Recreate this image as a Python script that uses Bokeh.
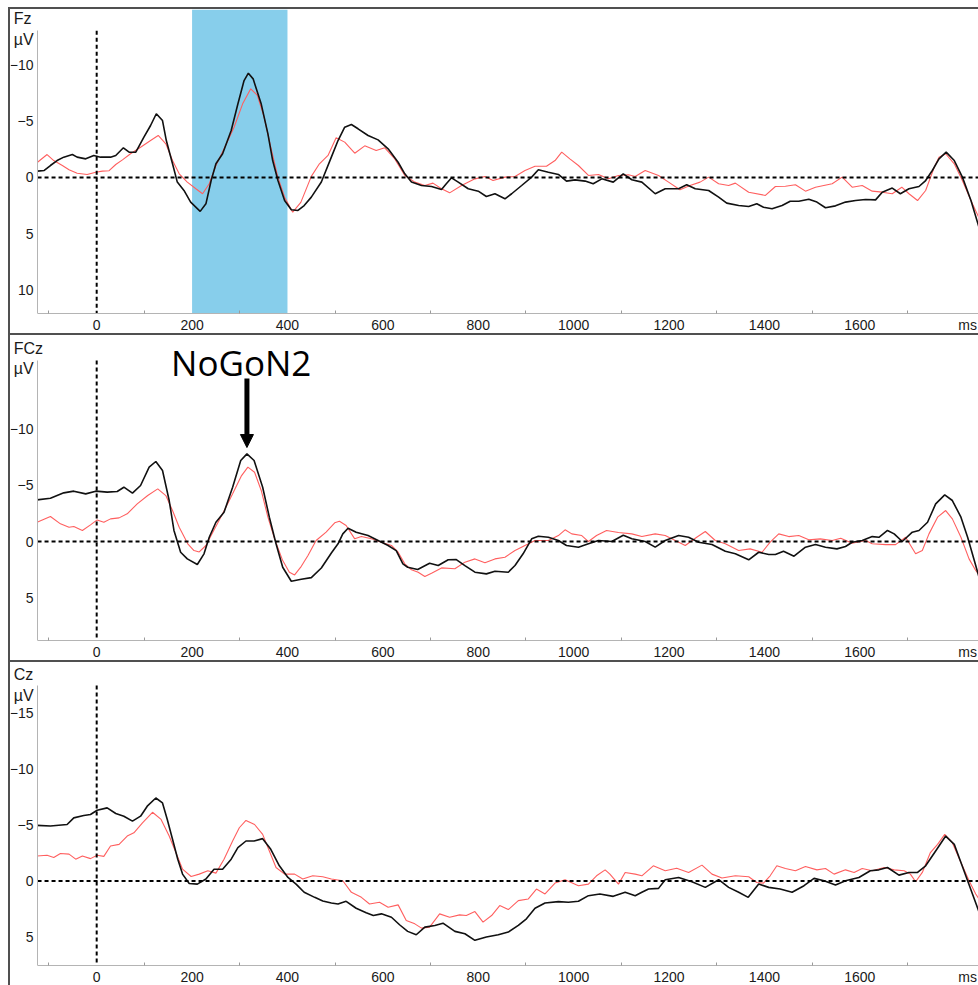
from bokeh.plotting import figure
from bokeh.layouts import column
from bokeh.models import (Range1d, FixedTicker, BoxAnnotation, Label,
                          Arrow, NormalHead)
from bokeh.embed import file_html
from bokeh.resources import INLINE

# ---------------------------------------------------------------- data
# time in ms, amplitude in microvolts (negative plotted upward)
FZ_BLACK_T = [-124, -110, -97, -83, -69, -51, -41, -23, -6, 8, 29, 40, 56, 68, 82, 99, 113, 125, 138, 146,
              159, 169, 183, 197, 217, 229, 240, 250, 264, 282, 296, 309, 318, 328, 345, 359, 369, 380, 394,
              408, 422, 435, 450, 471, 492, 506, 520, 534, 548, 569, 590, 611, 632, 646, 660, 681, 702, 723,
              733, 744, 758, 779, 800, 817, 835, 856, 870, 891, 912, 926, 947, 968, 985, 1003, 1024, 1041,
              1059, 1083, 1104, 1122, 1143, 1171, 1192, 1220, 1237, 1255, 1283, 1304, 1321, 1346, 1367, 1384,
              1398, 1416, 1437, 1454, 1472, 1493, 1510, 1528, 1549, 1570, 1591, 1612, 1633, 1647, 1668, 1685,
              1703, 1724, 1738, 1752, 1766, 1781, 1798, 1815, 1833, 1854]
FZ_BLACK_V = [-0.56, -0.62, -1.06, -1.5, -1.8, -2.03, -1.8, -1.65, -1.95, -1.8, -1.8, -1.95, -2.63, -2.24, -2.24,
              -3.57, -4.6, -5.64, -5.04, -3.27, -1.21, 0.41, 1.15, 2.18, 3.0, 2.33, 0.27, -1.21, -2.1, -4.16,
              -6.5, -8.58, -9.23, -8.73, -6.5, -3.86, -1.5, 0.27, 2.04, 2.86, 2.92, 2.48, 1.74, 0.4, -1.8,
              -3.27, -4.45, -4.69, -4.31, -3.72, -3.33, -2.54, -1.35, -0.32, 0.41, 0.71, 0.8, 1.06, 0.56, 0.03,
              0.41, 1.0, 1.21, 1.68, 1.44, 1.89, 1.44, 0.71, -0.03, -0.68, -0.47, -0.27, 0.32, 0.21, 0.32, 0.56,
              0.12, 0.41, -0.32, 0.2, 0.41, 1.44, 1.0, 1.0, 0.65, 1.0, 1.15, 1.74, 2.27, 2.48, 2.57, 2.33, 2.63,
              2.77, 2.48, 2.1, 2.1, 1.92, 2.18, 2.68, 2.51, 2.18, 2.04, 1.95, 1.98, 1.3, 0.94, 1.44, 1.0, 0.8,
              0.27, -0.62, -1.65, -2.24, -1.5, -0.03, 2.04, 4.99]

FZ_RED_T = [-124, -104, -90, -72, -58, -41, -20, -2, 12, 26, 40, 54, 71, 92, 113, 129, 145, 159, 173, 190, 208,
            222, 236, 250, 267, 288, 306, 323, 337, 351, 365, 380, 394, 411, 428, 450, 467, 485, 502, 520, 541,
            562, 586, 604, 625, 646, 667, 688, 705, 723, 740, 765, 793, 814, 831, 856, 877, 898, 919, 943, 961,
            975, 992, 1010, 1031, 1052, 1073, 1094, 1115, 1129, 1150, 1178, 1199, 1223, 1244, 1265, 1283, 1304,
            1325, 1339, 1367, 1402, 1423, 1444, 1465, 1486, 1507, 1542, 1563, 1584, 1605, 1626, 1647, 1668,
            1688, 1703, 1721, 1738, 1756, 1766, 1780, 1798, 1815, 1833, 1854]
FZ_RED_V = [-1.35, -2.03, -1.5, -1.06, -0.68, -0.38, -0.27, -0.47, -0.56, -0.6, -1.15, -1.56, -2.1, -2.68, -3.27,
            -3.72, -2.98, -1.5, -0.32, 0.41, 1.0, 1.44, 0.56, -1.06, -2.54, -4.45, -6.52, -7.85, -7.26, -5.34,
            -2.68, 0.0, 1.74, 3.07, 2.2, -0.1, -1.21, -1.95, -3.51, -3.13, -2.15, -2.8, -2.39, -2.63, -1.65,
            -0.18, 0.41, 0.71, 0.5, 1.0, 1.36, 0.71, 0.12, -0.09, 0.27, -0.03, -0.09, -0.62, -1.0, -1.0, -1.5,
            -2.24, -1.65, -1.06, -0.18, -0.27, 0.12, -0.18, -0.24, -0.09, -0.62, -0.18, 0.41, 1.09, 0.71, 0.41,
            -0.03, 0.56, 0.71, 0.5, 1.3, 1.59, 0.8, 0.77, 0.65, 1.21, 0.86, 0.56, -0.03, 0.86, 0.71, 1.21, 1.3,
            1.44, 0.86, 1.44, 2.04, 1.15, -0.91, -1.8, -2.1, -1.21, 0.27, 2.04, 3.95]

FCZ_BLACK_T = [-125, -97, -69, -48, -23, -2, 22, 43, 57, 75, 92, 110, 124, 138, 152, 162, 176, 190, 211, 225,
               236, 250, 267, 285, 302, 315, 330, 348, 362, 376, 390, 408, 429, 450, 471, 492, 506, 516, 527,
               544, 569, 590, 611, 628, 642, 652, 673, 698, 716, 737, 754, 772, 793, 817, 835, 863, 877, 894,
               912, 926, 947, 968, 985, 1010, 1031, 1052, 1080, 1104, 1122, 1150, 1171, 1192, 1220, 1241, 1262,
               1290, 1318, 1339, 1367, 1388, 1409, 1423, 1440, 1462, 1486, 1507, 1528, 1552, 1570, 1584, 1605,
               1626, 1640, 1658, 1672, 1689, 1710, 1724, 1742, 1759, 1778, 1794, 1812, 1826, 1840, 1854]
FCZ_BLACK_V = [-3.7, -3.84, -4.32, -4.47, -4.23, -4.47, -4.38, -4.44, -4.82, -4.29, -4.97, -6.6, -7.1, -6.3,
               -3.64, -0.98, 0.95, 1.54, 2.04, 1.09, -0.38, -1.71, -2.6, -4.82, -7.19, -7.78, -7.19, -4.82,
               -2.16, 0.2, 2.28, 3.52, 3.35, 3.2, 2.35, 1.02, 0.2, -0.68, -1.18, -0.83, -0.53, -0.09, 0.35, 0.8,
               1.98, 2.28, 2.48, 1.92, 2.13, 1.62, 1.6, 2.13, 2.72, 2.87, 2.63, 2.72, 2.13, 1.09, -0.24, -0.47,
               -0.38, -0.09, 0.35, 0.5, 0.2, -0.09, 0.0, -0.56, -0.24, 0.0, 0.5, -0.09, -0.53, -0.38, 0.06, 0.27,
               0.86, 1.09, 1.62, 0.95, 1.15, 1.15, 0.86, 1.3, 0.5, 0.27, 0.5, 0.65, 0.44, 0.06, -0.09, -0.44,
               -0.38, -0.98, -0.68, 0.0, -0.83, -0.98, -1.71, -3.34, -4.14, -3.64, -2.16, -0.38, 1.69, 3.76]

FCZ_RED_T = [-125, -97, -76, -58, -48, -30, -13, 1, 15, 29, 47, 64, 85, 107, 128, 145, 159, 173, 191, 204, 215,
             229, 247, 264, 285, 303, 317, 331, 345, 359, 373, 390, 404, 415, 429, 443, 460, 481, 499, 509, 523,
             541, 555, 576, 597, 618, 632, 646, 660, 674, 688, 702, 723, 751, 772, 793, 814, 835, 856, 877, 898,
             919, 947, 968, 982, 996, 1017, 1031, 1048, 1069, 1094, 1122, 1143, 1171, 1192, 1213, 1234, 1258,
             1276, 1297, 1318, 1346, 1370, 1395, 1412, 1430, 1451, 1472, 1493, 1517, 1542, 1560, 1584, 1612,
             1626, 1654, 1675, 1696, 1717, 1731, 1745, 1763, 1780, 1794, 1812, 1829, 1843, 1854]
FCZ_RED_V = [-1.71, -2.22, -1.57, -1.27, -1.33, -0.98, -1.48, -1.92, -1.71, -2.01, -2.1, -2.46, -3.34, -4.08,
             -4.67, -4.08, -2.75, -1.27, 0.2, 0.8, 0.92, 0.35, -1.12, -2.46, -4.23, -5.8, -6.6, -6.15, -4.53,
             -2.16, -0.24, 1.69, 2.72, 2.96, 2.2, 1.24, -0.09, -0.83, -1.66, -1.8, -1.42, -0.24, -0.44, -0.24,
             0.06, 0.35, 0.95, 1.98, 2.51, 2.72, 3.1, 2.81, 2.34, 2.42, 1.83, 1.54, 1.89, 1.54, 1.39, 0.8, 0.35,
             -0.09, -0.09, -0.53, -1.04, -0.68, -0.53, 0.0, -0.53, -0.98, -0.8, -0.68, -0.44, -0.68, -0.53,
             -0.09, 0.35, -0.38, -0.89, -0.09, 0.2, 0.8, 0.65, 0.95, 0.06, -0.68, -0.44, -0.53, -0.15, -0.24,
             -0.09, -0.3, 0.15, -0.09, 0.2, 0.27, 0.27, -0.38, 1.09, 0.8, -0.68, -2.16, -2.75, -2.01, -0.38,
             1.54, 2.57, 3.17]

CZ_BLACK_T = [-125, -97, -62, -48, -27, -13, 1, 22, 40, 57, 75, 92, 106, 124, 138, 148, 159, 170, 180, 194, 211,
              229, 246, 264, 282, 296, 313, 330, 348, 365, 383, 401, 418, 435, 457, 474, 492, 506, 523, 544, 565,
              580, 597, 618, 635, 652, 670, 688, 709, 726, 751, 772, 793, 817, 842, 863, 884, 901, 919, 940, 968,
              989, 1010, 1031, 1055, 1083, 1108, 1129, 1143, 1157, 1178, 1192, 1220, 1248, 1276, 1304, 1325,
              1346, 1366, 1388, 1409, 1433, 1458, 1483, 1504, 1525, 1549, 1570, 1598, 1622, 1640, 1658, 1682,
              1703, 1721, 1738, 1759, 1780, 1798, 1812, 1826, 1840, 1854]
CZ_BLACK_V = [-4.96, -4.9, -5.04, -5.63, -5.84, -5.93, -6.31, -6.52, -6.02, -5.78, -5.34, -5.78, -6.67, -7.4,
              -6.96, -5.49, -3.72, -1.95, -0.62, 0.21, 0.27, -0.18, -1.06, -1.06, -1.95, -2.98, -3.57, -3.57,
              -3.78, -2.83, -1.36, -0.32, 0.27, 1.0, 1.45, 1.77, 1.95, 2.04, 1.8, 2.42, 2.83, 3.07, 2.92, 3.22,
              3.89, 4.48, 4.78, 4.1, 3.95, 3.75, 4.48, 4.69, 5.28, 4.98, 4.78, 4.54, 3.95, 3.36, 2.42, 1.95, 1.83,
              1.89, 1.8, 1.3, 1.15, 1.36, 1.0, 1.3, 1.0, 0.71, 0.65, -0.12, -0.32, 0.06, 0.56, -0.12, 0.56, 1.0,
              1.45, 0.27, 0.56, 0.71, 1.0, 0.41, -0.24, -0.03, 0.35, -0.03, -0.32, -0.92, -1.0, -1.21, -0.53,
              -0.77, -0.77, -1.36, -2.68, -4.01, -3.27, -1.65, -0.03, 1.59, 3.22]

CZ_RED_T = [-125, -104, -90, -76, -58, -44, -30, -13, 1, 15, 29, 47, 64, 78, 96, 117, 135, 152, 166, 180, 198,
            215, 233, 250, 267, 285, 299, 313, 331, 348, 362, 376, 394, 415, 432, 453, 474, 492, 516, 534, 555,
            572, 593, 611, 632, 649, 667, 681, 698, 719, 740, 761, 775, 793, 810, 828, 845, 863, 884, 905, 922,
            940, 961, 982, 1010, 1031, 1048, 1066, 1076, 1094, 1108, 1129, 1143, 1167, 1192, 1216, 1241, 1269,
            1290, 1311, 1339, 1367, 1384, 1398, 1412, 1426, 1444, 1465, 1486, 1510, 1528, 1546, 1570, 1588,
            1605, 1626, 1651, 1672, 1693, 1706, 1717, 1731, 1748, 1763, 1778, 1794, 1812, 1829, 1843, 1854]
CZ_RED_V = [-2.24, -2.3, -2.1, -2.45, -2.4, -1.95, -2.24, -2.0, -2.3, -2.2, -3.13, -3.27, -4.01, -4.3, -5.19,
            -6.13, -5.49, -4.01, -2.54, -1.06, -0.41, -0.62, -0.92, -0.71, -1.95, -3.57, -4.75, -5.4, -5.04,
            -4.16, -2.68, -1.21, -0.62, -0.62, -0.18, -0.47, -0.38, -0.18, -0.03, 1.0, 1.45, 2.04, 1.89, 2.33,
            2.12, 3.51, 3.81, 4.19, 4.1, 2.92, 3.22, 3.01, 3.07, 2.72, 3.66, 3.07, 2.18, 2.54, 1.74, 1.59, 0.71,
            1.15, 0.18, -0.12, 0.41, 0.27, -0.47, -1.0, -0.62, 0.27, -0.77, -0.62, -0.47, -1.36, -0.92, -1.15,
            -0.77, -1.42, -0.62, -0.27, -0.47, -0.38, 0.12, 0.18, -0.47, -1.36, -1.12, -0.92, -1.3, -1.0, -1.12,
            -0.62, -1.0, -0.77, -1.12, -0.92, -1.21, -1.0, -0.92, -0.62, 0.06, -0.77, -2.54, -3.27, -4.16, -3.42,
            -1.65, -0.03, 1.15, 1.89]

CHANNELS = ["Fz", "FCz", "Cz"]
Y_TICKS = [[-10, -5, 0, 5, 10], [-10, -5, 0, 5], [-15, -10, -5, 0, 5]]
X_LABEL_TICKS = [0, 200, 400, 600, 800, 1000, 1200, 1400, 1600]
X_MINOR_TICKS = [-100, 100, 300, 500, 700, 900, 1100, 1300, 1500, 1700]
UNIT_TICK = 1826  # position of the "ms" unit label on the time axis
WINDOW = (200, 400)  # highlighted N2 window on Fz (ms)
ANNOTATION = "NoGoN2"
N2_PEAK_MS = 315

# ---------------------------------------------------------------- layout
# the frame spans the whole panel width; the time axis starts at EPOCH_START
VIEW = (-180.7, 1853)
EPOCH_START, EPOCH_END = -124, 1853
NAME_X = -174
# (bottom, top) of each frame, amplitude-axis extent, panel height, bottom border
Y_RANGES = [(12.04, -14.87), (8.78, -18.28), (7.52, -19.47)]
Y_AXIS_EXTENT = [(-13.0, 12.04), (-16.06, 8.78), (-17.43, 7.52)]
HEIGHTS = [326, 327, 325]
BOTTOM = [20, 20, 18]
NAME_Y = [(-14.07, -12.21), (-17.13, -15.35), (-18.41, -16.55)]

FONT = "Liberation Sans"
TEXT = "#1a1a1a"
AXIS = "#b4b4b4"
BORDER = "2px solid #505050"

series = [(FZ_BLACK_T, FZ_BLACK_V, FZ_RED_T, FZ_RED_V),
          (FCZ_BLACK_T, FCZ_BLACK_V, FCZ_RED_T, FCZ_RED_V),
          (CZ_BLACK_T, CZ_BLACK_V, CZ_RED_T, CZ_RED_V)]

figs = []
for i, name in enumerate(CHANNELS):
    p = figure(width=970, height=HEIGHTS[i],
               x_range=Range1d(*VIEW), y_range=Range1d(*Y_RANGES[i]),
               output_backend="svg", toolbar_location=None,
               min_border_left=0, min_border_right=0, min_border_top=0,
               min_border_bottom=BOTTOM[i],
               styles={"border-top": BORDER, "border-left": BORDER})
    p.grid.visible = False
    p.outline_line_color = None
    p.background_fill_color = "white"
    p.border_fill_color = "white"

    # time axis
    xa = p.xaxis[0]
    xa.ticker = FixedTicker(ticks=X_LABEL_TICKS + [UNIT_TICK], minor_ticks=X_MINOR_TICKS)
    xa.major_label_overrides = {UNIT_TICK: "ms"}
    xa.bounds = (EPOCH_START, EPOCH_END)
    xa.major_tick_in = 0
    xa.major_tick_out = 0
    xa.minor_tick_in = 3
    xa.minor_tick_out = 0
    xa.minor_tick_line_color = "#9a9a9a"
    xa.axis_line_color = AXIS
    xa.major_label_standoff = 3
    xa.major_label_text_font = FONT
    xa.major_label_text_font_size = "14px"
    xa.major_label_text_color = TEXT

    # amplitude axis (negative up), pinned at the start of the epoch
    ya = p.yaxis[0]
    ya.fixed_location = EPOCH_START
    ya.ticker = FixedTicker(ticks=Y_TICKS[i], minor_ticks=[])
    ya.bounds = Y_AXIS_EXTENT[i]
    ya.major_tick_in = 0
    ya.major_tick_out = 0
    ya.minor_tick_in = 0
    ya.minor_tick_out = 0
    ya.axis_line_color = AXIS
    ya.major_label_standoff = 4
    ya.major_label_text_font = FONT
    ya.major_label_text_font_size = "14px"
    ya.major_label_text_color = TEXT

    if i == 0:
        p.add_layout(BoxAnnotation(left=WINDOW[0], right=WINDOW[1], fill_color="#87ceeb",
                                   fill_alpha=1.0, line_alpha=0, level="underlay"))

    bt, bv, rt, rv = series[i]
    p.line(rt, rv, line_color="#ff5f5f", line_width=1.1)
    p.line(bt, bv, line_color="#111111", line_width=1.6)

    # baseline and stimulus onset
    p.segment(x0=[EPOCH_START], y0=[0], x1=[EPOCH_END], y1=[0],
              line_color="black", line_dash="4 3", line_width=2)
    p.segment(x0=[0], y0=[Y_AXIS_EXTENT[i][0]], x1=[0], y1=[Y_AXIS_EXTENT[i][1]],
              line_color="black", line_dash="4 3", line_width=2)

    # channel name and unit in the top-left corner
    for txt, yv in zip([name, "µV"], NAME_Y[i]):
        p.add_layout(Label(x=NAME_X, y=yv, text=txt, text_align="left", text_baseline="middle",
                           text_font=FONT, text_font_size="16px", text_color=TEXT))

    if i == 1:
        p.add_layout(Label(x=156, y=-15.88, text=ANNOTATION, text_align="left",
                           text_baseline="middle", text_font="Open Sans",
                           text_font_size="35px", text_color="black"))
        p.add_layout(Arrow(end=NormalHead(size=13, fill_color="black", line_color="black"),
                           x_start=N2_PEAK_MS, y_start=-14.46, x_end=N2_PEAK_MS, y_end=-8.34,
                           line_width=5, line_color="black"))
    figs.append(p)

layout = column(*figs, margin=(7, 0, 0, 8), spacing=0)

with open("out.html", "w") as f:
    f.write(file_html(layout, INLINE))
